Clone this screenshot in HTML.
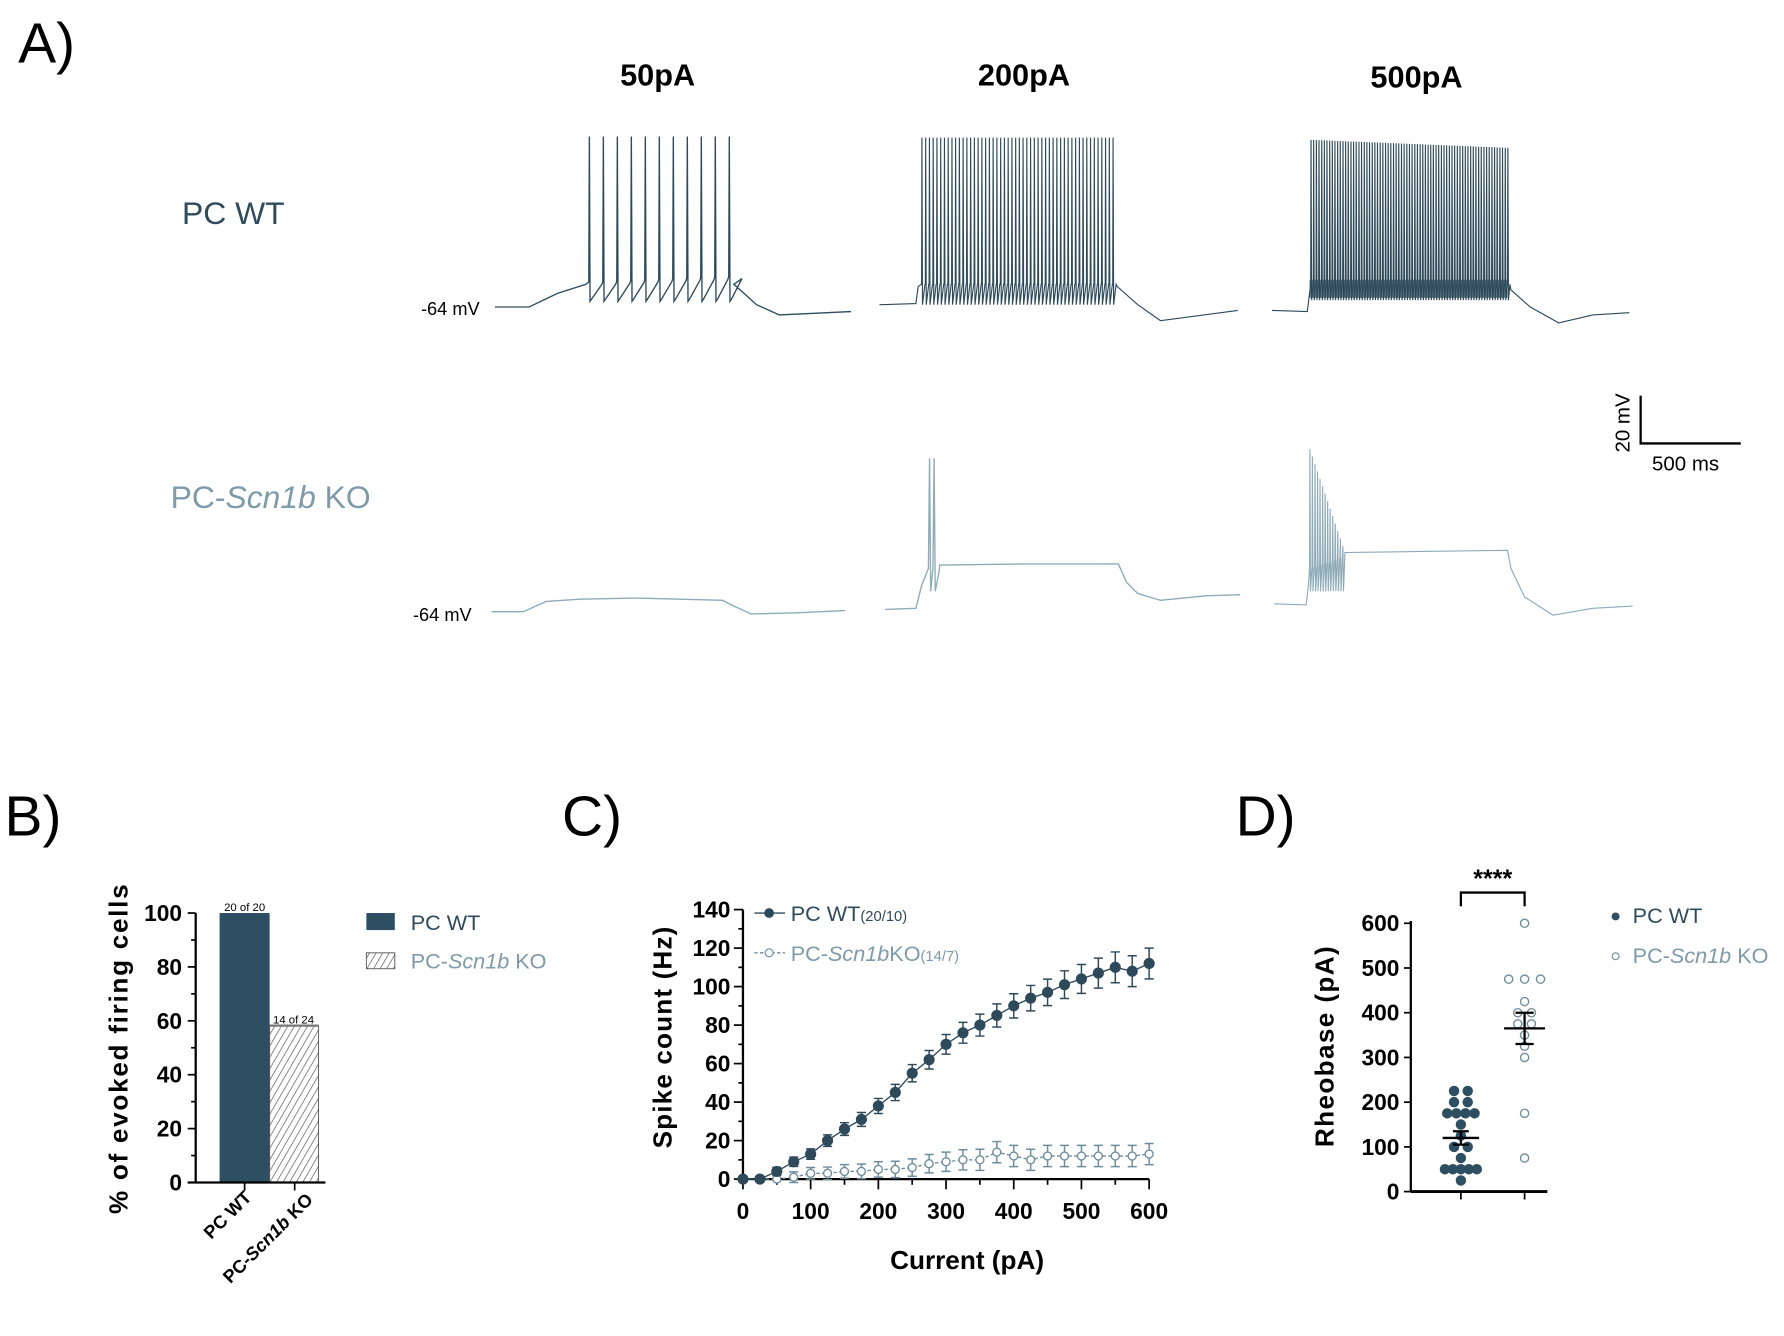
<!DOCTYPE html>
<html><head><meta charset="utf-8"><style>
html,body{margin:0;padding:0;background:#fff}
svg{display:block}
text{font-family:"Liberation Sans",Arial,sans-serif}
</style></head><body>
<svg id="s" width="1784" height="1336" viewBox="0 0 1568 1175" preserveAspectRatio="none" xmlns="http://www.w3.org/2000/svg">
<defs>
<pattern id="h" width="5" height="5" patternUnits="userSpaceOnUse" patternTransform="rotate(30)">
<rect width="5" height="5" fill="#fff"/><line x1="0" y1="0" x2="0" y2="5" stroke="#555" stroke-width="1.2"/></pattern>
</defs>
<text x="16" y="55" font-size="50">A)</text>
<text x="578" y="75" font-size="27" font-weight="bold" text-anchor="middle">50pA</text>
<text x="900" y="75" font-size="27" font-weight="bold" text-anchor="middle">200pA</text>
<text x="1245" y="77" font-size="27" font-weight="bold" text-anchor="middle">500pA</text>
<text x="160" y="197" font-size="28" fill="#2f4a5a">PC WT</text>
<text x="150" y="447" font-size="28" fill="#7f9aa8">PC-<tspan font-style="italic">Scn1b</tspan> KO</text>
<text x="370" y="277" font-size="16">-64 mV</text>
<text x="363" y="546" font-size="16">-64 mV</text>
<g stroke="#000" stroke-width="2" fill="none"><path d="M1442 348 V390 H1530"/></g>
<text transform="translate(1432,398) rotate(-90)" font-size="18">20 mV</text>
<text x="1452" y="414" font-size="18">500 ms</text>
<g id="traces" fill="none" stroke-width="1.2"></g>

<text x="4" y="735" font-size="50">B)</text>
<text x="494" y="735" font-size="50">C)</text>
<text x="1086" y="735" font-size="50">D)</text>
<g id="B"></g><g id="C"></g><g id="D"></g>
</svg>
<script>
var NS="http://www.w3.org/2000/svg";
function el(p,t,a,txt){var e=document.createElementNS(NS,t);for(var k in a)e.setAttribute(k,a[k]);if(txt!==undefined)e.textContent=txt;p.appendChild(e);return e;}
var T=document.getElementById('traces');
var WT="#2e4a5a",KO="#8fabb8";
function spikes(x0,x1,n,top,bot,base,slow){var d="";var dx=(x1-x0)/(n-1);for(var i=0;i<n;i++){var x=x0+i*dx;var t=typeof top=="function"?top(i/(n-1)):top;var b=typeof base=="function"?base(i/(n-1)):base;
if(slow){d+=" L"+(x-0.5).toFixed(1)+" "+(b-6)+" L"+x.toFixed(1)+" "+t+" L"+(x+0.6).toFixed(1)+" "+bot+" L"+(x+2).toFixed(1)+" "+(bot-2)+" L"+(x+dx*0.9).toFixed(1)+" "+(b-4);}
else d+=" L"+x.toFixed(1)+" "+b+" L"+(x+0.3).toFixed(1)+" "+t+" L"+(x+0.8).toFixed(1)+" "+bot+" L"+(x+dx*0.9).toFixed(1)+" "+b;}return d;}
var d="M435 270 L465 270 L490 258 L515 250"+spikes(518,641,11,120,265,function(f){return 254-f*5},true)+" L645 250 L665 268 L685 277 L748 274";
el(T,'path',{d:d,stroke:WT});
d="M773 268 L805 267 L807 252"+spikes(810,978,52,121,268,250)+" L982 252 L1000 268 L1020 282 L1088 273";
el(T,'path',{d:d,stroke:WT,'stroke-width':1});
d="M1118 273 L1149 274 L1151 258"+spikes(1152,1325,75,function(f){return 123+f*7},264,250)+" L1328 255 L1345 270 L1370 284 L1400 277 L1432 275";
el(T,'path',{d:d,stroke:WT,'stroke-width':1});
el(T,'rect',{x:1151,y:246,width:174,height:16,fill:WT,stroke:'none',opacity:0.75});
el(T,'path',{d:"M432 538 L460 538 L480 529 L510 527 L560 526 L635 528 L645 533 L660 540 L700 539 L743 537",stroke:KO});
el(T,'path',{d:"M778 536 L805 535 L810 515 L816 500 L817 403 L818 520 L820 500 L821 403 L822 520 L825 505 L826 497 L900 496 L983 496 L990 512 L1000 522 L1020 528 L1060 524 L1090 523",stroke:KO});
d="M1120 531 L1148 532 L1150 515"+spikes(1151,1180,14,function(f){return 395+f*85},520,function(f){return 500-f*10})+" L1182 486 L1250 485 L1325 484 L1328 500 L1340 525 L1365 541 L1400 535 L1435 533";
el(T,'path',{d:d,stroke:KO,'stroke-width':1});

var B=document.getElementById('B');
el(B,'rect',{x:193,y:803,width:44,height:237,fill:"#2e4f62"});
el(B,'rect',{x:237,y:902,width:43,height:138,fill:"url(#h)",stroke:"#555","stroke-width":0.8});
el(B,'line',{x1:237,y1:902,x2:280,y2:902,stroke:"#777","stroke-width":2});
el(B,'line',{x1:172,y1:803,x2:172,y2:1040,stroke:"#000","stroke-width":2});
el(B,'line',{x1:165,y1:1040,x2:286,y2:1040,stroke:"#000","stroke-width":2});
for(var v=0;v<=100;v+=10){var y=1040-v*2.37;el(B,'line',{x1:v%20?168:165,y1:y,x2:172,y2:y,stroke:"#000","stroke-width":1.5});if(v%20==0)el(B,'text',{x:160,y:y+7,"font-size":20,"font-weight":"bold","text-anchor":"end"},v);}
[215,259].forEach(function(x){el(B,'line',{x1:x,y1:1040,x2:x,y2:1047,stroke:"#000","stroke-width":1.5});});
el(B,'text',{x:215,y:801,"font-size":10,"text-anchor":"middle"},"20 of 20");
el(B,'text',{x:258,y:900,"font-size":10,"text-anchor":"middle"},"14 of 24");
el(B,'text',{transform:"translate(222,1054) rotate(-45)","font-size":16,"font-weight":"bold","text-anchor":"end"},"PC WT");
var t=el(B,'text',{transform:"translate(276,1056) rotate(-45)","font-size":16,"font-weight":"bold","text-anchor":"end"});
t.innerHTML='PC-<tspan font-style="italic">Scn1b</tspan> KO';
el(B,'text',{transform:"translate(112,922) rotate(-90)","font-size":23,"font-weight":"bold","text-anchor":"middle","letter-spacing":"1.5"},"% of evoked firing cells");
el(B,'rect',{x:322,y:803,width:25,height:15,fill:"#2e4f62"});
el(B,'rect',{x:322,y:838,width:25,height:14,fill:"url(#h)",stroke:"#555","stroke-width":0.8});
el(B,'text',{x:361,y:818,"font-size":19,fill:"#2f4a5a"},"PC WT");
t=el(B,'text',{x:361,y:852,"font-size":19,fill:"#7f9aa8"});t.innerHTML='PC-<tspan font-style="italic">Scn1b</tspan> KO';

var C=document.getElementById('C');
function cx(p){return 653+p*0.595}function cy(v){return 1037-v*1.693}
el(C,'line',{x1:653,y1:800,x2:653,y2:1037,stroke:"#000","stroke-width":2});
el(C,'line',{x1:653,y1:1037,x2:1010,y2:1037,stroke:"#000","stroke-width":2});
for(var v=0;v<=140;v+=10){var y=cy(v);el(C,'line',{x1:v%20?649:645,y1:y,x2:653,y2:y,stroke:"#000","stroke-width":1.5});if(v%20==0)el(C,'text',{x:642,y:y+7,"font-size":20,"font-weight":"bold","text-anchor":"end"},v);}
for(var p=0;p<=600;p+=50){var x=cx(p);el(C,'line',{x1:x,y1:1037,x2:x,y2:p%100?1042:1046,stroke:"#000","stroke-width":1.5});if(p%100==0)el(C,'text',{x:x,y:1072,"font-size":20,"font-weight":"bold","text-anchor":"middle"},p);}
el(C,'text',{transform:"translate(590,912) rotate(-90)","font-size":23,"font-weight":"bold","text-anchor":"middle","letter-spacing":"1"},"Spike count (Hz)");
el(C,'text',{x:850,y:1116,"font-size":23,"font-weight":"bold","text-anchor":"middle"},"Current (pA)");
var wt=[0,0,4,9,13,20,26,31,38,45,55,62,70,76,80,85,90,94,97,101,104,107,110,108,112];
var ko=[0,0,0,1,3,3,4,4,5,5,6,8,9,10,10,14,12,10,12,12,12,12,12,12,13];
function series(vals,col,open,errf){var d="";vals.forEach(function(v,i){var x=cx(i*25),y=cy(v);d+=(i?" L":"M")+x.toFixed(1)+" "+y.toFixed(1);var e=errf(i,v);if(e>0){el(C,'path',{d:"M"+x+" "+cy(v-e)+" V"+cy(v+e)+" M"+(x-4)+" "+cy(v+e)+" H"+(x+4)+" M"+(x-4)+" "+cy(v-e)+" H"+(x+4),stroke:col,"stroke-width":1.3,fill:"none"});}});
el(C,'path',{d:d,stroke:col,"stroke-width":1.2,fill:"none","stroke-dasharray":open?"3,2":"none"});
vals.forEach(function(v,i){el(C,'circle',{cx:cx(i*25),cy:cy(v),r:open?3.5:4.3,fill:open?"#fff":col,stroke:col,"stroke-width":1.2});});}
series(ko,"#6f8c9a",true,function(i,v){return i<3?0:Math.min(2+i*0.25,5.5)});
series(wt,"#2e4a5a",false,function(i,v){return i<2?0:Math.min(1.5+i*0.3,8)});
el(C,'line',{x1:663,y1:803,x2:690,y2:803,stroke:"#2e4a5a","stroke-width":1.2});
el(C,'circle',{cx:676,cy:803,r:4.3,fill:"#2e4a5a"});
el(C,'line',{x1:663,y1:838,x2:690,y2:838,stroke:"#6f8c9a","stroke-width":1.2,"stroke-dasharray":"3,2"});
el(C,'circle',{cx:676,cy:838,r:3.5,fill:"#fff",stroke:"#6f8c9a"});
t=el(C,'text',{x:695,y:810,"font-size":19,fill:"#2f4a5a"});t.innerHTML='PC WT<tspan font-size="13">(20/10)</tspan>';
t=el(C,'text',{x:695,y:845,"font-size":19,fill:"#7f9aa8"});t.innerHTML='PC-<tspan font-style="italic">Scn1b</tspan>KO<tspan font-size="13">(14/7)</tspan>';

var D=document.getElementById('D');
function dy(v){return 1048-v*0.3933}
el(D,'line',{x1:1240,y1:810,x2:1240,y2:1048,stroke:"#000","stroke-width":2});
el(D,'line',{x1:1240,y1:1048,x2:1360,y2:1048,stroke:"#000","stroke-width":2.5});
for(var v=0;v<=600;v+=100){var y=dy(v);el(D,'line',{x1:1234,y1:y,x2:1240,y2:y,stroke:"#000","stroke-width":1.5});el(D,'text',{x:1230,y:y+7,"font-size":20,"font-weight":"bold","text-anchor":"end"},v);}
[1284,1340].forEach(function(x){el(D,'line',{x1:x,y1:1048,x2:x,y2:1055,stroke:"#000","stroke-width":1.5});});
el(D,'path',{d:"M1284 797 V785 H1340 V797",stroke:"#000","stroke-width":2,fill:"none"});
el(D,'text',{x:1312,y:780,"font-size":22,"font-weight":"bold","text-anchor":"middle"},"****");
el(D,'text',{transform:"translate(1172,920) rotate(-90)","font-size":23,"font-weight":"bold","text-anchor":"middle","letter-spacing":"1.2"},"Rheobase (pA)");
var wp=[[225,1278],[225,1290],[200,1278],[200,1290],[175,1272],[175,1280],[175,1288],[175,1296],[150,1284],[125,1284],[100,1278],[100,1290],[75,1284],[50,1270],[50,1277],[50,1284],[50,1291],[50,1298],[25,1284]];
wp.forEach(function(p){el(D,'circle',{cx:p[1],cy:dy(p[0]),r:4.6,fill:"#2e4f62"});});
el(D,'path',{d:"M1268 "+dy(120)+" H1300 M1284 "+dy(105)+" V"+dy(135)+" M1277 "+dy(105)+" H1291 M1277 "+dy(135)+" H1291",stroke:"#000","stroke-width":2,fill:"none"});
var kp=[[600,1340],[475,1326],[475,1340],[475,1354],[425,1340],[400,1334],[400,1346],[375,1334],[375,1346],[350,1340],[325,1340],[300,1340],[175,1340],[75,1340]];
kp.forEach(function(p){el(D,'circle',{cx:p[1],cy:dy(p[0]),r:3.6,fill:"#fff",stroke:"#6f8c9a","stroke-width":1.2});});
el(D,'path',{d:"M1322 "+dy(365)+" H1358 M1340 "+dy(330)+" V"+dy(400)+" M1332 "+dy(330)+" H1348 M1332 "+dy(400)+" H1348",stroke:"#000","stroke-width":2,fill:"none"});
el(D,'circle',{cx:1420,cy:806,r:3.5,fill:"#2e4f62"});
el(D,'circle',{cx:1420,cy:841,r:3,fill:"#fff",stroke:"#6f8c9a"});
el(D,'text',{x:1435,y:812,"font-size":19,fill:"#2f4a5a"},"PC WT");
t=el(D,'text',{x:1435,y:847,"font-size":19,fill:"#7f9aa8"});t.innerHTML='PC-<tspan font-style="italic">Scn1b</tspan> KO';
</script>
</body></html>
